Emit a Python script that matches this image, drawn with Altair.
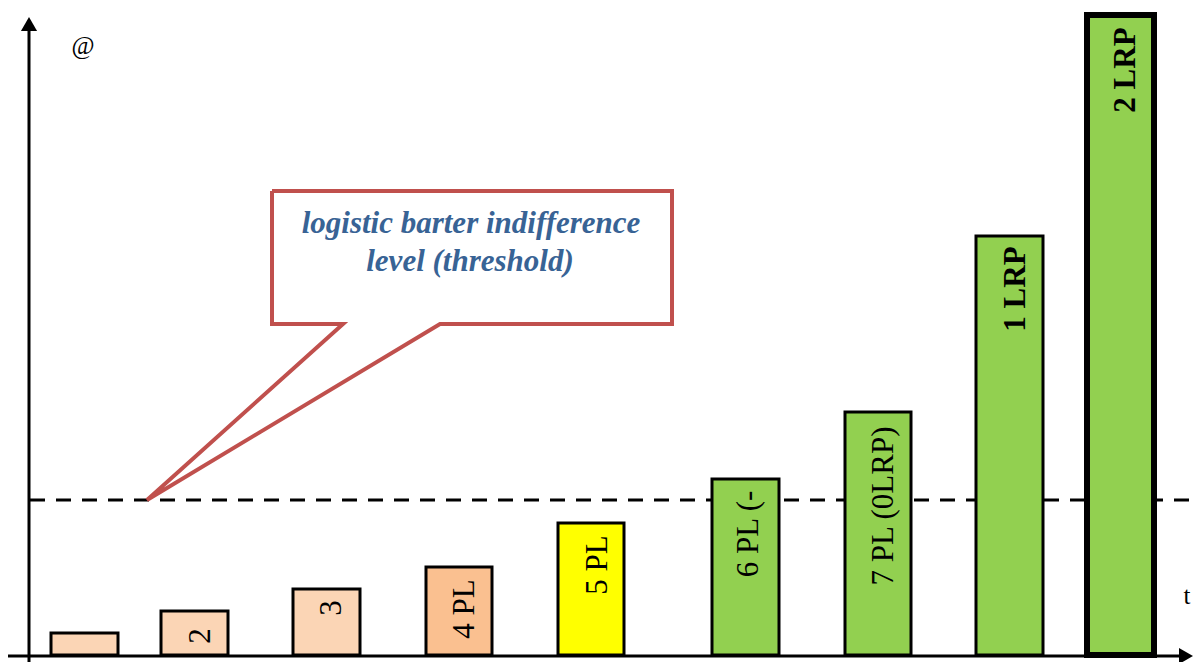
import altair as alt
import pandas as pd

# ---- data (t positions and levels) ----
bar_start = [51, 161, 293, 426, 558, 712, 845, 976, 1087]
bar_end = [118, 228, 360, 492, 624, 779, 911, 1043, 1154]
bar_value = [22, 44, 66, 88, 132, 176, 243, 419, 640]
bar_color = ["#fbd5b5", "#fbd5b5", "#fbd5b5", "#fac090", "#ffff00",
             "#92d050", "#92d050", "#92d050", "#92d050"]
bar_border = [3, 3, 3, 3, 3, 3, 3, 3, 6]

threshold = 155

label_text = ["2", "3", "4 PL", "5 PL", "6 PL (-", "7 PL (0LRP)"]
label_x = [201, 332, 465, 598, 749, 884]
label_y = [19, 47, 46, 90, 121, 149]

bold_text = ["1 LRP", "2 LRP"]
bold_x = [1016, 1126]
bold_y = [366, 585]

callout_x = [272, 672, 672, 440, 147, 343, 272, 272]
callout_y = [464, 464, 331, 331, 155, 331, 331, 464]

callout_lines = ["logistic barter indifference", "level (threshold)"]
callout_lx = [471, 470]
callout_ly = [431, 393]

XS = alt.Scale(domain=[8, 1194], nice=False, zero=False)
YS = alt.Scale(domain=[-7, 647], nice=False, zero=False)

bars_df = pd.DataFrame({"x0": bar_start, "x1": bar_end, "v": bar_value,
                        "b": [0] * len(bar_value),
                        "c": bar_color, "sw": bar_border})
bars = alt.Chart(bars_df).mark_rect(stroke="black").encode(
    x=alt.X("x0:Q", scale=XS, axis=None),
    x2="x1:Q",
    y=alt.Y("v:Q", scale=YS, axis=None),
    y2="b:Q",
    fill=alt.Fill("c:N", scale=None),
    strokeWidth=alt.StrokeWidth("sw:Q", scale=None),
)

thr_df = pd.DataFrame({"t": [threshold], "xa": [30], "xb": [1200]})
thr = alt.Chart(thr_df).mark_rule(
    color="black", strokeWidth=3, strokeDash=[15, 11]
).encode(
    y=alt.Y("t:Q", scale=YS, axis=None),
    x=alt.X("xa:Q", scale=XS, axis=None),
    x2="xb:Q",
)

yax_df = pd.DataFrame({"x": [29], "ya": [-15], "yb": [626]})
yaxis = alt.Chart(yax_df).mark_rule(color="black", strokeWidth=3).encode(
    x=alt.X("x:Q", scale=XS, axis=None),
    y=alt.Y("ya:Q", scale=YS, axis=None),
    y2="yb:Q",
)
xax_df = pd.DataFrame({"y": [-1], "xa": [7], "xb": [1184]})
xaxis = alt.Chart(xax_df).mark_rule(color="black", strokeWidth=3).encode(
    y=alt.Y("y:Q", scale=YS, axis=None),
    x=alt.X("xa:Q", scale=XS, axis=None),
    x2="xb:Q",
)
arrows_df = pd.DataFrame({"x": [29, 1186], "y": [631, -1],
                          "s": ["triangle-up", "triangle-right"]})
arrows = alt.Chart(arrows_df).mark_point(
    filled=True, color="black", opacity=1, size=260
).encode(
    x=alt.X("x:Q", scale=XS, axis=None),
    y=alt.Y("y:Q", scale=YS, axis=None),
    shape=alt.Shape("s:N", scale=None),
)

lab_df = pd.DataFrame({"x": label_x, "y": label_y, "t": label_text})
labels = alt.Chart(lab_df).mark_text(
    angle=270, font="Liberation Serif", fontSize=31, color="black",
    align="center", baseline="middle"
).encode(x=alt.X("x:Q", scale=XS, axis=None),
         y=alt.Y("y:Q", scale=YS, axis=None), text="t:N")

bold_df = pd.DataFrame({"x": bold_x, "y": bold_y, "t": bold_text})
bold_labels = alt.Chart(bold_df).mark_text(
    angle=270, font="Liberation Serif", fontSize=31, fontWeight="bold",
    color="black", align="center", baseline="middle"
).encode(x=alt.X("x:Q", scale=XS, axis=None),
         y=alt.Y("y:Q", scale=YS, axis=None), text="t:N")

call_df = pd.DataFrame({"x": callout_x, "y": callout_y,
                        "i": list(range(len(callout_x)))})
callout = alt.Chart(call_df).mark_line(
    color="#c0504d", strokeWidth=4, strokeJoin="miter", strokeMiterLimit=4
).encode(
    x=alt.X("x:Q", scale=XS, axis=None),
    y=alt.Y("y:Q", scale=YS, axis=None),
    order="i:Q",
)

ct_df = pd.DataFrame({"x": callout_lx, "y": callout_ly, "t": callout_lines})
callout_text = alt.Chart(ct_df).mark_text(
    font="Liberation Serif", fontSize=31, fontStyle="italic", fontWeight="bold",
    color="#386395", align="center", baseline="middle"
).encode(x=alt.X("x:Q", scale=XS, axis=None),
         y=alt.Y("y:Q", scale=YS, axis=None), text="t:N")

ax_df = pd.DataFrame({"x": [83, 1187], "y": [609, 59], "t": ["@", "t"]})
axis_text = alt.Chart(ax_df).mark_text(
    font="Liberation Serif", fontSize=25, color="black",
    align="center", baseline="middle"
).encode(x=alt.X("x:Q", scale=XS, axis=None),
         y=alt.Y("y:Q", scale=YS, axis=None), text="t:N")

chart = alt.layer(
    thr, bars, yaxis, xaxis, arrows, labels, bold_labels,
    callout, callout_text, axis_text
).properties(
    width=1186, height=654, padding=0,
    autosize=alt.AutoSizeParams(type="none"),
    background="white",
).configure_view(stroke=None)

chart.save("out.html", embed_options={"renderer": "svg", "actions": False})
